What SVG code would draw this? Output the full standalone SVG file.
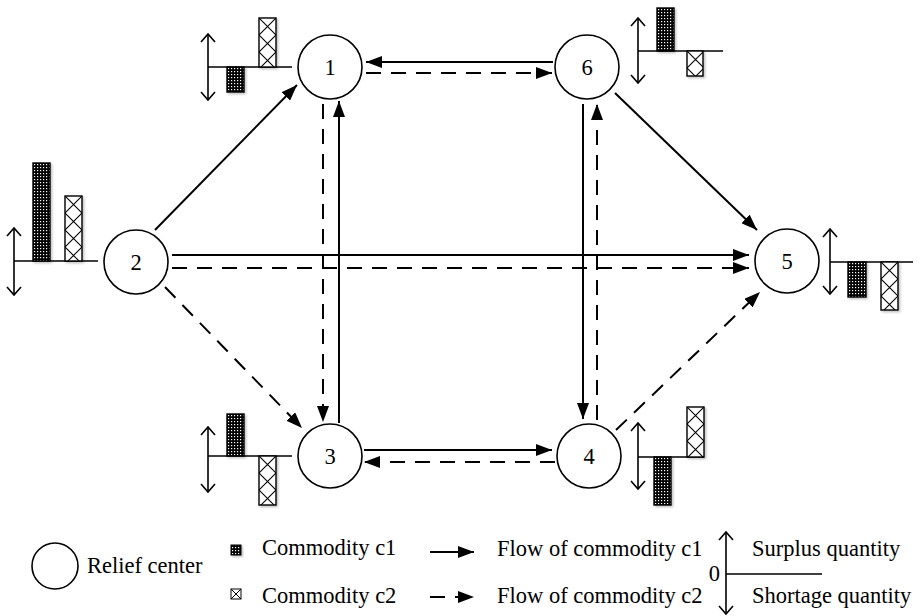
<svg xmlns="http://www.w3.org/2000/svg" width="921" height="616" viewBox="0 0 921 616">
<style>
.node circle{fill:#fff;stroke:#000;stroke-width:1.6}
.lbl{font-family:"Liberation Serif","Times New Roman",serif;font-size:22.5px;fill:#000}
.solid{stroke:#000;stroke-width:2;fill:none;marker-end:url(#ah)}
.dash{stroke:#000;stroke-width:2;fill:none;stroke-dasharray:15 10;marker-end:url(#ah)}
.axis{stroke:#000;stroke-width:1.6;fill:none}
.dbl{stroke:#000;stroke-width:1.6;fill:none;marker-start:url(#chev);marker-end:url(#chev)}
.c1{fill:url(#p1);stroke:#000;stroke-width:1.4;filter:url(#sh)}
.c2{fill:url(#p2);stroke:#000;stroke-width:1.4;filter:url(#sh)}
</style>
<defs>
<marker id="ah" markerUnits="userSpaceOnUse" markerWidth="17" markerHeight="12" refX="16" refY="6" orient="auto">
<path d="M0,0 L16,6 L0,12 z" fill="#000"/>
</marker>
<marker id="chev" markerUnits="userSpaceOnUse" markerWidth="18" markerHeight="18" refX="9" refY="9" orient="auto-start-reverse" overflow="visible">
<path d="M1,2 L9,9 L1,16" fill="none" stroke="#000" stroke-width="1.6"/>
</marker>
<pattern id="p1" patternUnits="userSpaceOnUse" width="3" height="3">
<rect width="3" height="3" fill="#000"/>
<rect x="1" y="1" width="1.2" height="1.2" fill="#fff"/>
</pattern>
<pattern id="p2" patternUnits="userSpaceOnUse" width="17" height="17">
<rect width="17" height="17" fill="#fff"/>
<path d="M0,0 L17,17 M17,0 L0,17" stroke="#000" stroke-width="1.1"/>
</pattern>
<filter id="sh" x="-30%" y="-30%" width="160%" height="160%">
<feDropShadow dx="1.5" dy="1.5" stdDeviation="1.2" flood-color="#000" flood-opacity="0.25"/>
</filter>
</defs>

<g id="connectors">
<line class="solid" x1="553" y1="62" x2="366" y2="62"/>
<line class="dash" x1="366" y1="73" x2="552" y2="73"/>
<line class="solid" x1="339" y1="423" x2="339" y2="101"/>
<line class="dash" x1="323" y1="104" x2="323" y2="422"/>
<line class="solid" x1="583" y1="104" x2="583" y2="419"/>
<line class="dash" x1="597" y1="420" x2="597" y2="104"/>
<line class="solid" x1="364" y1="450" x2="552" y2="450"/>
<line class="dash" x1="555" y1="462" x2="364" y2="462"/>
<line class="solid" x1="155" y1="230" x2="297" y2="85"/>
<line class="solid" x1="172" y1="255" x2="749" y2="255"/>
<line class="dash" x1="172" y1="268" x2="749" y2="268"/>
<line class="dash" x1="165" y1="287" x2="302" y2="428"/>
<line class="solid" x1="615" y1="93" x2="757" y2="230"/>
<line class="dash" x1="616" y1="430" x2="760" y2="292"/>
</g>

<g id="node1" class="node">
<circle cx="330" cy="67" r="32"/>
<text class="lbl" x="330" y="75" text-anchor="middle">1</text>
</g>
<g id="node2" class="node">
<circle cx="136" cy="262" r="32"/>
<text class="lbl" x="136" y="270" text-anchor="middle">2</text>
</g>
<g id="node3" class="node">
<circle cx="330" cy="456" r="32"/>
<text class="lbl" x="330" y="464" text-anchor="middle">3</text>
</g>
<g id="node4" class="node">
<circle cx="589" cy="456" r="32"/>
<text class="lbl" x="589" y="464" text-anchor="middle">4</text>
</g>
<g id="node5" class="node">
<circle cx="787" cy="261" r="32"/>
<text class="lbl" x="787" y="269" text-anchor="middle">5</text>
</g>
<g id="node6" class="node">
<circle cx="587" cy="67" r="32"/>
<text class="lbl" x="587" y="75" text-anchor="middle">6</text>
</g>

<g id="chart1">
<line class="dbl" x1="208" y1="34" x2="208" y2="100"/>
<line class="axis" x1="208" y1="67" x2="292" y2="67"/>
<g transform="translate(227,67)"><rect class="c1" width="17" height="25"/></g>
<g transform="translate(259,18)"><rect class="c2" width="17" height="49"/></g>
</g>
<g id="chart2">
<line class="dbl" x1="14" y1="228" x2="14" y2="295"/>
<line class="axis" x1="14" y1="261" x2="98" y2="261"/>
<g transform="translate(33,163)"><rect class="c1" width="17" height="98"/></g>
<g transform="translate(65,196)"><rect class="c2" width="17" height="65"/></g>
</g>
<g id="chart3">
<line class="dbl" x1="208" y1="427" x2="208" y2="492"/>
<line class="axis" x1="208" y1="456" x2="292" y2="456"/>
<g transform="translate(227,414)"><rect class="c1" width="17" height="42"/></g>
<g transform="translate(259,456)"><rect class="c2" width="17" height="49"/></g>
</g>
<g id="chart4">
<line class="dbl" x1="638" y1="423" x2="638" y2="489"/>
<line class="axis" x1="638" y1="457" x2="704" y2="457"/>
<g transform="translate(654,457)"><rect class="c1" width="17" height="48"/></g>
<g transform="translate(687,407)"><rect class="c2" width="17" height="50"/></g>
</g>
<g id="chart5">
<line class="dbl" x1="830" y1="229" x2="830" y2="294"/>
<line class="axis" x1="830" y1="262" x2="913" y2="262"/>
<g transform="translate(848,262)"><rect class="c1" width="18" height="35"/></g>
<g transform="translate(881,262)"><rect class="c2" width="17" height="48"/></g>
</g>
<g id="chart6">
<line class="dbl" x1="638" y1="18" x2="638" y2="83"/>
<line class="axis" x1="638" y1="51" x2="723" y2="51"/>
<g transform="translate(657,8)"><rect class="c1" width="17" height="43"/></g>
<g transform="translate(687,51)"><rect class="c2" width="16" height="25"/></g>
</g>

<g id="legend">
<circle cx="55" cy="566" r="23" fill="#fff" stroke="#000" stroke-width="1.6"/>
<text class="lbl" x="87" y="573">Relief center</text>
<rect x="231" y="545" width="10" height="10" fill="url(#p1)" stroke="#000" stroke-width="1" filter="url(#sh)"/>
<text class="lbl" x="262" y="555">Commodity c1</text>
<g transform="translate(231,589)">
<rect width="10" height="10" fill="#fff" stroke="#000" stroke-width="1"/>
<path d="M0,0 L10,10 M10,0 L0,10" stroke="#000" stroke-width="1"/>
</g>
<text class="lbl" x="262" y="603">Commodity c2</text>
<line class="solid" x1="430" y1="552" x2="474" y2="552"/>
<text class="lbl" x="497" y="556">Flow of commodity c1</text>
<line class="dash" x1="430" y1="597" x2="474" y2="597" stroke-dasharray="12 8"/>
<text class="lbl" x="497" y="603">Flow of commodity c2</text>
<line class="dbl" x1="726" y1="532" x2="726" y2="614"/>
<line class="axis" x1="726" y1="574" x2="822" y2="574"/>
<text class="lbl" x="720" y="581" text-anchor="end">0</text>
<text class="lbl" x="752" y="556">Surplus quantity</text>
<text class="lbl" x="752" y="603">Shortage quantity</text>
</g>
</svg>
